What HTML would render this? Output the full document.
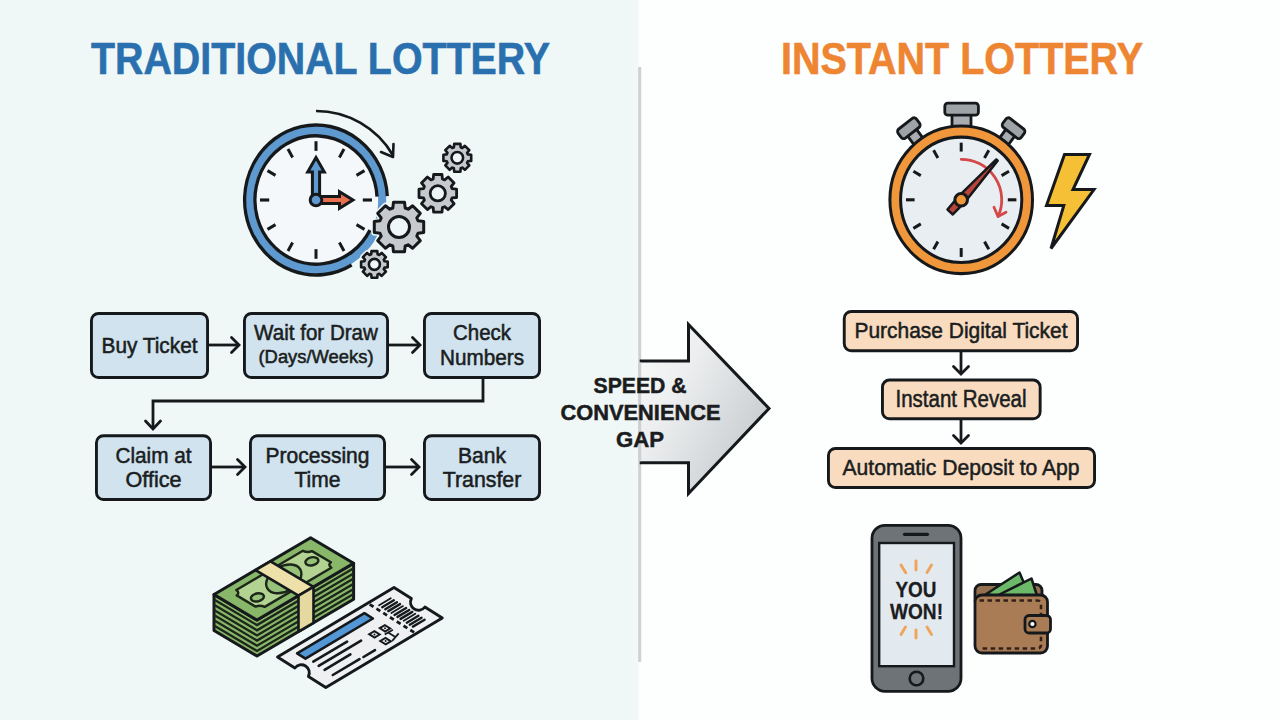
<!DOCTYPE html>
<html><head><meta charset="utf-8"><style>
html,body{margin:0;padding:0;width:1280px;height:720px;overflow:hidden;background:#fdfefe;}
svg{display:block;}
</style></head><body>
<svg width="1280" height="720" viewBox="0 0 1280 720">
<defs><linearGradient id="lp" x1="0" y1="0" x2="1" y2="0"><stop offset="0" stop-color="#eff8f7"/><stop offset="0.985" stop-color="#eff8f7"/><stop offset="1" stop-color="#f4f7f8"/></linearGradient></defs>
<rect x="0" y="0" width="1280" height="720" fill="#fdfefe"/>
<rect x="0" y="0" width="638.5" height="720" fill="url(#lp)"/>
<line x1="639.7" y1="67" x2="639.7" y2="662" stroke="#cdd1d2" stroke-width="3"/>
<text x="91" y="74" font-family="Liberation Sans, sans-serif" font-weight="bold" font-size="45" fill="#2a70ae" stroke="#2a70ae" stroke-width="0.6" textLength="459" lengthAdjust="spacingAndGlyphs">TRADITIONAL LOTTERY</text>
<text x="781" y="74" font-family="Liberation Sans, sans-serif" font-weight="bold" font-size="45" fill="#ee8532" stroke="#ee8532" stroke-width="0.6" textLength="362" lengthAdjust="spacingAndGlyphs">INSTANT LOTTERY</text>
<g transform="translate(316,200) scale(1,1.05)">
<circle cx="0" cy="0" r="61" fill="#f5f8fa"/>
<circle cx="0" cy="0" r="66.2" fill="none" stroke="#5e9ad0" stroke-width="8"/>
<path d="M35.70,61.83 A71.4,71.4 0 1 1 71.30,-3.74" fill="none" stroke="#16191c" stroke-width="3.3"/>
<path d="M53.95,28.68 A61.1,61.1 0 1 1 61.02,-3.20" fill="none" stroke="#16191c" stroke-width="3.3"/>
<line x1="0.0" y1="-46.8" x2="0.0" y2="-56.0" stroke="#16191c" stroke-width="3"/>
<line x1="23.4" y1="-40.5" x2="28.0" y2="-48.5" stroke="#16191c" stroke-width="3"/>
<line x1="40.5" y1="-23.4" x2="48.5" y2="-28.0" stroke="#16191c" stroke-width="3"/>
<line x1="46.8" y1="-0.0" x2="56.0" y2="-0.0" stroke="#16191c" stroke-width="3"/>
<line x1="40.5" y1="23.4" x2="48.5" y2="28.0" stroke="#16191c" stroke-width="3"/>
<line x1="23.4" y1="40.5" x2="28.0" y2="48.5" stroke="#16191c" stroke-width="3"/>
<line x1="0.0" y1="46.8" x2="0.0" y2="56.0" stroke="#16191c" stroke-width="3"/>
<line x1="-23.4" y1="40.5" x2="-28.0" y2="48.5" stroke="#16191c" stroke-width="3"/>
<line x1="-40.5" y1="23.4" x2="-48.5" y2="28.0" stroke="#16191c" stroke-width="3"/>
<line x1="-46.8" y1="0.0" x2="-56.0" y2="0.0" stroke="#16191c" stroke-width="3"/>
<line x1="-40.5" y1="-23.4" x2="-48.5" y2="-28.0" stroke="#16191c" stroke-width="3"/>
<line x1="-23.4" y1="-40.5" x2="-28.0" y2="-48.5" stroke="#16191c" stroke-width="3"/>
</g>
<path d="M312.4,200 L312.4,172 L307.7,172 L316,157.5 L324.3,172 L319.6,172 L319.6,200 Z" fill="#5e9ad0" stroke="#16191c" stroke-width="3" stroke-linejoin="miter"/>
<path d="M316,196.6 L339.5,196.6 L339.5,191.7 L353,200 L339.5,208.3 L339.5,203.4 L316,203.4 Z" fill="#e9704c" stroke="#16191c" stroke-width="3" stroke-linejoin="miter"/>
<circle cx="316" cy="200" r="5.8" fill="#5e9ad0" stroke="#16191c" stroke-width="3"/>
<path d="M316.0,111.0 A89,89 0 0 1 393.1,155.5" fill="none" stroke="#16191c" stroke-width="2.6"/>
<path d="M381,152 L393,157 L393.5,144" fill="none" stroke="#16191c" stroke-width="2.6" stroke-linecap="round" stroke-linejoin="round"/>
<path d="M453.9,147.3 L454.2,143.9 L460.4,143.9 L460.7,147.3 L462.3,148.0 L464.9,145.8 L469.3,150.2 L467.1,152.8 L467.8,154.4 L471.2,154.7 L471.2,160.9 L467.8,161.2 L467.1,162.8 L469.3,165.4 L464.9,169.8 L462.3,167.6 L460.7,168.3 L460.4,171.7 L454.2,171.7 L453.9,168.3 L452.3,167.6 L449.7,169.8 L445.3,165.4 L447.5,162.8 L446.8,161.2 L443.4,160.9 L443.4,154.7 L446.8,154.4 L447.5,152.8 L445.3,150.2 L449.7,145.8 L452.3,148.0 Z" fill="none" stroke="#eff8f7" stroke-width="5.6" stroke-linejoin="round"/>
<path d="M453.9,147.3 L454.2,143.9 L460.4,143.9 L460.7,147.3 L462.3,148.0 L464.9,145.8 L469.3,150.2 L467.1,152.8 L467.8,154.4 L471.2,154.7 L471.2,160.9 L467.8,161.2 L467.1,162.8 L469.3,165.4 L464.9,169.8 L462.3,167.6 L460.7,168.3 L460.4,171.7 L454.2,171.7 L453.9,168.3 L452.3,167.6 L449.7,169.8 L445.3,165.4 L447.5,162.8 L446.8,161.2 L443.4,160.9 L443.4,154.7 L446.8,154.4 L447.5,152.8 L445.3,150.2 L449.7,145.8 L452.3,148.0 Z" fill="#c6c9cd" stroke="#16191c" stroke-width="2.6" stroke-linejoin="round"/>
<circle cx="457.3" cy="157.8" r="5.8" fill="#eff6f7" stroke="#16191c" stroke-width="2.6"/>
<path d="M433.2,179.0 L433.6,174.5 L442.0,174.5 L442.4,179.0 L444.6,179.9 L448.2,177.0 L454.1,182.9 L451.2,186.5 L452.1,188.7 L456.6,189.1 L456.6,197.5 L452.1,197.9 L451.2,200.1 L454.1,203.7 L448.2,209.6 L444.6,206.7 L442.4,207.6 L442.0,212.1 L433.6,212.1 L433.2,207.6 L431.0,206.7 L427.4,209.6 L421.5,203.7 L424.4,200.1 L423.5,197.9 L419.0,197.5 L419.0,189.1 L423.5,188.7 L424.4,186.5 L421.5,182.9 L427.4,177.0 L431.0,179.9 Z" fill="none" stroke="#eff8f7" stroke-width="5.8" stroke-linejoin="round"/>
<path d="M433.2,179.0 L433.6,174.5 L442.0,174.5 L442.4,179.0 L444.6,179.9 L448.2,177.0 L454.1,182.9 L451.2,186.5 L452.1,188.7 L456.6,189.1 L456.6,197.5 L452.1,197.9 L451.2,200.1 L454.1,203.7 L448.2,209.6 L444.6,206.7 L442.4,207.6 L442.0,212.1 L433.6,212.1 L433.2,207.6 L431.0,206.7 L427.4,209.6 L421.5,203.7 L424.4,200.1 L423.5,197.9 L419.0,197.5 L419.0,189.1 L423.5,188.7 L424.4,186.5 L421.5,182.9 L427.4,177.0 L431.0,179.9 Z" fill="#c6c9cd" stroke="#16191c" stroke-width="2.8" stroke-linejoin="round"/>
<circle cx="437.8" cy="193.3" r="7.6" fill="#eff6f7" stroke="#16191c" stroke-width="2.8"/>
<path d="M392.8,208.0 L393.5,202.3 L404.5,202.3 L405.2,208.0 L408.1,209.2 L412.6,205.7 L420.3,213.4 L416.8,217.9 L418.0,220.8 L423.7,221.5 L423.7,232.5 L418.0,233.2 L416.8,236.1 L420.3,240.6 L412.6,248.3 L408.1,244.8 L405.2,246.0 L404.5,251.7 L393.5,251.7 L392.8,246.0 L389.9,244.8 L385.4,248.3 L377.7,240.6 L381.2,236.1 L380.0,233.2 L374.3,232.5 L374.3,221.5 L380.0,220.8 L381.2,217.9 L377.7,213.4 L385.4,205.7 L389.9,209.2 Z" fill="none" stroke="#eff8f7" stroke-width="6" stroke-linejoin="round"/>
<path d="M392.8,208.0 L393.5,202.3 L404.5,202.3 L405.2,208.0 L408.1,209.2 L412.6,205.7 L420.3,213.4 L416.8,217.9 L418.0,220.8 L423.7,221.5 L423.7,232.5 L418.0,233.2 L416.8,236.1 L420.3,240.6 L412.6,248.3 L408.1,244.8 L405.2,246.0 L404.5,251.7 L393.5,251.7 L392.8,246.0 L389.9,244.8 L385.4,248.3 L377.7,240.6 L381.2,236.1 L380.0,233.2 L374.3,232.5 L374.3,221.5 L380.0,220.8 L381.2,217.9 L377.7,213.4 L385.4,205.7 L389.9,209.2 Z" fill="#c6c9cd" stroke="#16191c" stroke-width="3" stroke-linejoin="round"/>
<circle cx="399" cy="227" r="10.5" fill="#eff6f7" stroke="#16191c" stroke-width="3"/>
<path d="M371.2,254.4 L371.5,251.1 L377.3,251.1 L377.6,254.4 L379.2,255.0 L381.7,252.9 L385.9,257.1 L383.8,259.6 L384.4,261.2 L387.7,261.5 L387.7,267.3 L384.4,267.6 L383.8,269.2 L385.9,271.7 L381.7,275.9 L379.2,273.8 L377.6,274.4 L377.3,277.7 L371.5,277.7 L371.2,274.4 L369.6,273.8 L367.1,275.9 L362.9,271.7 L365.0,269.2 L364.4,267.6 L361.1,267.3 L361.1,261.5 L364.4,261.2 L365.0,259.6 L362.9,257.1 L367.1,252.9 L369.6,255.0 Z" fill="none" stroke="#eff8f7" stroke-width="5.6" stroke-linejoin="round"/>
<path d="M371.2,254.4 L371.5,251.1 L377.3,251.1 L377.6,254.4 L379.2,255.0 L381.7,252.9 L385.9,257.1 L383.8,259.6 L384.4,261.2 L387.7,261.5 L387.7,267.3 L384.4,267.6 L383.8,269.2 L385.9,271.7 L381.7,275.9 L379.2,273.8 L377.6,274.4 L377.3,277.7 L371.5,277.7 L371.2,274.4 L369.6,273.8 L367.1,275.9 L362.9,271.7 L365.0,269.2 L364.4,267.6 L361.1,267.3 L361.1,261.5 L364.4,261.2 L365.0,259.6 L362.9,257.1 L367.1,252.9 L369.6,255.0 Z" fill="#c6c9cd" stroke="#16191c" stroke-width="2.6" stroke-linejoin="round"/>
<circle cx="374.4" cy="264.4" r="5.5" fill="#eff6f7" stroke="#16191c" stroke-width="2.6"/>
<rect x="91.45" y="313.45" width="116.1" height="64.1" rx="7" fill="#d0e3ef" stroke="#16191c" stroke-width="2.9"/>
<rect x="244.45" y="313.45" width="143.1" height="64.1" rx="7" fill="#d0e3ef" stroke="#16191c" stroke-width="2.9"/>
<rect x="424.45" y="313.45" width="115.1" height="64.1" rx="7" fill="#d0e3ef" stroke="#16191c" stroke-width="2.9"/>
<rect x="96.45" y="435.75" width="114.1" height="63.79999999999999" rx="7" fill="#d0e3ef" stroke="#16191c" stroke-width="2.9"/>
<rect x="250.45" y="435.75" width="134.1" height="63.79999999999999" rx="7" fill="#d0e3ef" stroke="#16191c" stroke-width="2.9"/>
<rect x="424.45" y="435.75" width="115.1" height="63.79999999999999" rx="7" fill="#d0e3ef" stroke="#16191c" stroke-width="2.9"/>
<line x1="209" y1="345" x2="238" y2="345" stroke="#16191c" stroke-width="2.8"/>
<path d="M231.5,337.5 L239,345 L231.5,352.5" fill="none" stroke="#16191c" stroke-width="2.8" stroke-linecap="round" stroke-linejoin="miter"/>
<line x1="389" y1="345" x2="419" y2="345" stroke="#16191c" stroke-width="2.8"/>
<path d="M412.5,337.5 L420,345 L412.5,352.5" fill="none" stroke="#16191c" stroke-width="2.8" stroke-linecap="round" stroke-linejoin="miter"/>
<line x1="212" y1="467" x2="244" y2="467" stroke="#16191c" stroke-width="2.8"/>
<path d="M237.5,459.5 L245,467 L237.5,474.5" fill="none" stroke="#16191c" stroke-width="2.8" stroke-linecap="round" stroke-linejoin="miter"/>
<line x1="386" y1="467" x2="418" y2="467" stroke="#16191c" stroke-width="2.8"/>
<path d="M411.5,459.5 L419,467 L411.5,474.5" fill="none" stroke="#16191c" stroke-width="2.8" stroke-linecap="round" stroke-linejoin="miter"/>
<path d="M483,379 L483,401 L153,401 L153,428" fill="none" stroke="#16191c" stroke-width="2.8"/>
<path d="M145.5,421 L153,429 L160.5,421" fill="none" stroke="#16191c" stroke-width="2.8" stroke-linecap="round"/>
<text x="149.5" y="352.5" font-family="Liberation Sans, sans-serif" font-weight="normal" font-size="22" fill="#1b1e21" stroke="#1b1e21" stroke-width="0.55" text-anchor="middle" textLength="96" lengthAdjust="spacingAndGlyphs">Buy Ticket</text>
<text x="316" y="340.2" font-family="Liberation Sans, sans-serif" font-weight="normal" font-size="22" fill="#1b1e21" stroke="#1b1e21" stroke-width="0.55" text-anchor="middle" textLength="123.8" lengthAdjust="spacingAndGlyphs">Wait for Draw</text>
<text x="316" y="363.4" font-family="Liberation Sans, sans-serif" font-weight="normal" font-size="18.3" fill="#1b1e21" stroke="#1b1e21" stroke-width="0.55" text-anchor="middle" textLength="115" lengthAdjust="spacingAndGlyphs">(Days/Weeks)</text>
<text x="482" y="340.2" font-family="Liberation Sans, sans-serif" font-weight="normal" font-size="22" fill="#1b1e21" stroke="#1b1e21" stroke-width="0.55" text-anchor="middle" textLength="58" lengthAdjust="spacingAndGlyphs">Check</text>
<text x="482" y="365" font-family="Liberation Sans, sans-serif" font-weight="normal" font-size="22" fill="#1b1e21" stroke="#1b1e21" stroke-width="0.55" text-anchor="middle" textLength="84" lengthAdjust="spacingAndGlyphs">Numbers</text>
<text x="153.5" y="462.5" font-family="Liberation Sans, sans-serif" font-weight="normal" font-size="22" fill="#1b1e21" stroke="#1b1e21" stroke-width="0.55" text-anchor="middle" textLength="76" lengthAdjust="spacingAndGlyphs">Claim at</text>
<text x="153.5" y="487" font-family="Liberation Sans, sans-serif" font-weight="normal" font-size="22" fill="#1b1e21" stroke="#1b1e21" stroke-width="0.55" text-anchor="middle" textLength="56" lengthAdjust="spacingAndGlyphs">Office</text>
<text x="317.5" y="462.5" font-family="Liberation Sans, sans-serif" font-weight="normal" font-size="22" fill="#1b1e21" stroke="#1b1e21" stroke-width="0.55" text-anchor="middle" textLength="104" lengthAdjust="spacingAndGlyphs">Processing</text>
<text x="317.5" y="487" font-family="Liberation Sans, sans-serif" font-weight="normal" font-size="22" fill="#1b1e21" stroke="#1b1e21" stroke-width="0.55" text-anchor="middle" textLength="46" lengthAdjust="spacingAndGlyphs">Time</text>
<text x="482" y="462.5" font-family="Liberation Sans, sans-serif" font-weight="normal" font-size="22" fill="#1b1e21" stroke="#1b1e21" stroke-width="0.55" text-anchor="middle" textLength="48" lengthAdjust="spacingAndGlyphs">Bank</text>
<text x="482" y="487" font-family="Liberation Sans, sans-serif" font-weight="normal" font-size="22" fill="#1b1e21" stroke="#1b1e21" stroke-width="0.55" text-anchor="middle" textLength="78.5" lengthAdjust="spacingAndGlyphs">Transfer</text>
<defs><linearGradient id="ag" x1="0" y1="0.15" x2="1" y2="0.85"><stop offset="0" stop-color="#f8f9f9"/><stop offset="0.3" stop-color="#eceeef"/><stop offset="1" stop-color="#c2c6ca"/></linearGradient></defs>
<path d="M639.7,361 L688.5,361 L688.5,324.5 L769,408.5 L688.5,493.5 L688.5,462.8 L639.7,462.8" fill="url(#ag)" stroke="#16191c" stroke-width="3" stroke-linejoin="miter"/>
<line x1="639.7" y1="362.5" x2="639.7" y2="461.3" stroke="#cdd1d2" stroke-width="3"/>
<text x="640" y="393" font-family="Liberation Sans, sans-serif" font-weight="bold" font-size="22.5" fill="#1a1c1e" stroke="#1a1c1e" stroke-width="0.5" text-anchor="middle" textLength="93" lengthAdjust="spacingAndGlyphs">SPEED &amp;</text>
<text x="640.5" y="419.8" font-family="Liberation Sans, sans-serif" font-weight="bold" font-size="22.5" fill="#1a1c1e" stroke="#1a1c1e" stroke-width="0.5" text-anchor="middle" textLength="160" lengthAdjust="spacingAndGlyphs">CONVENIENCE</text>
<text x="640" y="446.6" font-family="Liberation Sans, sans-serif" font-weight="bold" font-size="22.5" fill="#1a1c1e" stroke="#1a1c1e" stroke-width="0.5" text-anchor="middle" textLength="48" lengthAdjust="spacingAndGlyphs">GAP</text>
<rect x="952" y="112" width="19" height="18" fill="#a9adb1" stroke="#16191c" stroke-width="2.8"/>
<rect x="944.8" y="103.2" width="33.6" height="12" rx="3" fill="#9ea3a7" stroke="#16191c" stroke-width="2.8"/>
<g transform="translate(961.2,199.8) scale(1,1.03) rotate(-37)"><rect x="-5.5" y="-83" width="11" height="15" fill="#a9adb1" stroke="#16191c" stroke-width="2.8"/><rect x="-11.5" y="-92.5" width="23" height="11" rx="3" fill="#9ea3a7" stroke="#16191c" stroke-width="2.8"/></g>
<g transform="translate(961.2,199.8) scale(1,1.03) rotate(37)"><rect x="-5.5" y="-83" width="11" height="15" fill="#a9adb1" stroke="#16191c" stroke-width="2.8"/><rect x="-11.5" y="-92.5" width="23" height="11" rx="3" fill="#9ea3a7" stroke="#16191c" stroke-width="2.8"/></g>
<g transform="translate(961.2,199.8) scale(1,1.035)">
<circle cx="0" cy="0" r="71.3" fill="#f0963b" stroke="#16191c" stroke-width="3"/>
<circle cx="0" cy="0" r="60.6" fill="#e8eef2" stroke="#16191c" stroke-width="3"/>
<line x1="0.0" y1="-46.6" x2="0.0" y2="-55.2" stroke="#16191c" stroke-width="3"/>
<line x1="23.3" y1="-40.4" x2="27.6" y2="-47.8" stroke="#16191c" stroke-width="3"/>
<line x1="40.4" y1="-23.3" x2="47.8" y2="-27.6" stroke="#16191c" stroke-width="3"/>
<line x1="46.6" y1="-0.0" x2="55.2" y2="-0.0" stroke="#16191c" stroke-width="3"/>
<line x1="40.4" y1="23.3" x2="47.8" y2="27.6" stroke="#16191c" stroke-width="3"/>
<line x1="23.3" y1="40.4" x2="27.6" y2="47.8" stroke="#16191c" stroke-width="3"/>
<line x1="0.0" y1="46.6" x2="0.0" y2="55.2" stroke="#16191c" stroke-width="3"/>
<line x1="-23.3" y1="40.4" x2="-27.6" y2="47.8" stroke="#16191c" stroke-width="3"/>
<line x1="-40.4" y1="23.3" x2="-47.8" y2="27.6" stroke="#16191c" stroke-width="3"/>
<line x1="-46.6" y1="0.0" x2="-55.2" y2="0.0" stroke="#16191c" stroke-width="3"/>
<line x1="-40.4" y1="-23.3" x2="-47.8" y2="-27.6" stroke="#16191c" stroke-width="3"/>
<line x1="-23.3" y1="-40.4" x2="-27.6" y2="-47.8" stroke="#16191c" stroke-width="3"/>
</g>
<path d="M961.2,159.3 A40.5,40.5 0 0 1 998.2,216.3" fill="none" stroke="#d44848" stroke-width="2.8" stroke-linecap="round"/>
<path d="M994,207.3 L998,216.5 L1006,212.2" fill="none" stroke="#d44848" stroke-width="2.8" stroke-linecap="round" stroke-linejoin="round"/>
<g transform="translate(961.2,199.8) rotate(-48.0)"><path d="M53.5,-0.9 L53.5,0.9 L0,4.3 L-16.5,3.6 L-16.5,-3.6 L0,-4.3 Z" fill="#b9443b" stroke="#16191c" stroke-width="2.5" stroke-linejoin="round"/></g>
<circle cx="961.2" cy="199.8" r="6.3" fill="#f0963b" stroke="#16191c" stroke-width="3"/>
<path d="M1064.5,154.5 L1089.5,154.5 L1073,189.6 L1094,189.6 L1051,248.5 L1063.8,205.6 L1046.5,205.6 Z" fill="#f5c036" stroke="#16191c" stroke-width="3" stroke-linejoin="miter"/>
<rect x="844.25" y="311.45" width="233.30000000000004" height="39.29999999999999" rx="7" fill="#f9dcc0" stroke="#16191c" stroke-width="2.9"/>
<rect x="882.45" y="380.05" width="157.6999999999999" height="38.69999999999997" rx="7" fill="#f9dcc0" stroke="#16191c" stroke-width="2.9"/>
<rect x="828.45" y="448.45" width="266.1" height="39.1" rx="7" fill="#f9dcc0" stroke="#16191c" stroke-width="2.9"/>
<line x1="961" y1="352" x2="961" y2="373" stroke="#16191c" stroke-width="2.8"/>
<path d="M953.5,366.5 L961,374 L968.5,366.5" fill="none" stroke="#16191c" stroke-width="2.8" stroke-linecap="round"/>
<line x1="961" y1="420" x2="961" y2="442" stroke="#16191c" stroke-width="2.8"/>
<path d="M953.5,435.5 L961,443 L968.5,435.5" fill="none" stroke="#16191c" stroke-width="2.8" stroke-linecap="round"/>
<text x="961" y="338" font-family="Liberation Sans, sans-serif" font-weight="normal" font-size="22.8" fill="#1b1e21" stroke="#1b1e21" stroke-width="0.55" text-anchor="middle" textLength="213" lengthAdjust="spacingAndGlyphs">Purchase Digital Ticket</text>
<text x="961" y="407" font-family="Liberation Sans, sans-serif" font-weight="normal" font-size="23" fill="#1b1e21" stroke="#1b1e21" stroke-width="0.55" text-anchor="middle" textLength="131" lengthAdjust="spacingAndGlyphs">Instant Reveal</text>
<text x="961" y="475.2" font-family="Liberation Sans, sans-serif" font-weight="normal" font-size="22.8" fill="#1b1e21" stroke="#1b1e21" stroke-width="0.55" text-anchor="middle" textLength="237" lengthAdjust="spacingAndGlyphs">Automatic Deposit to App</text>
<rect x="872" y="525.3" width="89" height="166" rx="13" fill="#6e7378" stroke="#16191c" stroke-width="2.8"/>
<rect x="879.2" y="543" width="74.8" height="123.2" fill="#e3eaef" stroke="#16191c" stroke-width="2.4"/>
<line x1="904.5" y1="534.3" x2="927.5" y2="534.3" stroke="#16191c" stroke-width="3.2" stroke-linecap="round"/>
<circle cx="916.5" cy="678.5" r="6.8" fill="#6e7378" stroke="#16191c" stroke-width="2.6"/>
<text x="916" y="596.7" font-family="Liberation Sans, sans-serif" font-weight="bold" font-size="21.5" fill="#1b1d1f" stroke="#1b1d1f" stroke-width="0.3" text-anchor="middle" textLength="41" lengthAdjust="spacingAndGlyphs">YOU</text>
<text x="916.5" y="619" font-family="Liberation Sans, sans-serif" font-weight="bold" font-size="21.5" fill="#1b1d1f" stroke="#1b1d1f" stroke-width="0.3" text-anchor="middle" textLength="53" lengthAdjust="spacingAndGlyphs">WON!</text>
<line x1="901" y1="565" x2="905.7" y2="572.8" stroke="#f0a35a" stroke-width="2.9" stroke-linecap="round"/>
<line x1="916" y1="561" x2="916" y2="570" stroke="#f0a35a" stroke-width="2.9" stroke-linecap="round"/>
<line x1="931.5" y1="565" x2="927" y2="572.6" stroke="#f0a35a" stroke-width="2.9" stroke-linecap="round"/>
<line x1="905.5" y1="627" x2="901" y2="634.5" stroke="#f0a35a" stroke-width="2.9" stroke-linecap="round"/>
<line x1="916" y1="630" x2="916" y2="638" stroke="#f0a35a" stroke-width="2.9" stroke-linecap="round"/>
<line x1="927" y1="627" x2="931.5" y2="634.5" stroke="#f0a35a" stroke-width="2.9" stroke-linecap="round"/>
<rect x="975" y="584.5" width="67" height="22" rx="6" fill="#94704f" stroke="#16191c" stroke-width="2.8"/>
<path d="M985.5,594.5 L1019.5,572.5 L1026,588 L1000,596 Z" fill="#6cb969" stroke="#16191c" stroke-width="2.5" stroke-linejoin="round"/>
<path d="M997.5,595.5 L1031.5,578.5 L1037,595.5 Z" fill="#6cb969" stroke="#16191c" stroke-width="2.5" stroke-linejoin="round"/>
<rect x="975" y="595" width="72.5" height="58" rx="7" fill="#a97c56" stroke="#16191c" stroke-width="2.8"/>
<path d="M979.5,600.5 L1037,600.5 Q1041,600.5 1041,604.5 L1041,644.5 Q1041,648.5 1037,648.5 L979.5,648.5" fill="none" stroke="#33201a" stroke-width="2.6" stroke-dasharray="4.5,3.5"/>
<rect x="1025" y="615.5" width="25.5" height="17.5" rx="4" fill="#a97c56" stroke="#16191c" stroke-width="2.8"/>
<circle cx="1032.4" cy="624" r="3.2" fill="#ffffff" stroke="#16191c" stroke-width="2.2"/>
<path d="M214.0,594.5 L257.0,620.0 L353.6,563.2 L353.6,599.2 L257.0,656.0 L214.0,630.5 Z" fill="#88b76a" stroke="#16191c" stroke-width="3" stroke-linejoin="round"/>
<path d="M214.0,599.6 L257.0,625.1 L353.6,568.3" fill="none" stroke="#1c2619" stroke-width="2.3"/>
<path d="M214.0,604.8 L257.0,630.3 L353.6,573.5" fill="none" stroke="#1c2619" stroke-width="2.3"/>
<path d="M214.0,609.9 L257.0,635.4 L353.6,578.6" fill="none" stroke="#1c2619" stroke-width="2.3"/>
<path d="M214.0,615.1 L257.0,640.6 L353.6,583.8" fill="none" stroke="#1c2619" stroke-width="2.3"/>
<path d="M214.0,620.2 L257.0,645.7 L353.6,588.9" fill="none" stroke="#1c2619" stroke-width="2.3"/>
<path d="M214.0,625.4 L257.0,650.9 L353.6,594.1" fill="none" stroke="#1c2619" stroke-width="2.3"/>
<path d="M214.0,594.5 L310.6,537.7 L353.6,563.2 L257.0,620.0 Z" fill="#88b76a" stroke="#16191c" stroke-width="3" stroke-linejoin="round"/>
<path d="M236.3,590.0 L302.9,550.8 Q307.6,553.1 312.0,551.1 L330.9,562.3 Q327.5,564.9 331.3,567.7 L264.7,606.9 Q260.0,604.6 255.6,606.6 L236.7,595.4 Q240.1,592.8 236.3,590.0 Z" fill="#b2d391" stroke="#1c2619" stroke-width="2.4" stroke-linejoin="round"/>
<ellipse cx="283.8" cy="578.9" rx="19" ry="12.5" fill="#96c279" stroke="#1c2619" stroke-width="2.4" transform="rotate(-30 283.8 578.9)"/>
<ellipse cx="257.4" cy="597.4" rx="6.6" ry="4" fill="#96c279" stroke="#1c2619" stroke-width="2.4" transform="rotate(-12 257.4 597.4)"/>
<ellipse cx="311.9" cy="561.3" rx="6.6" ry="4" fill="#96c279" stroke="#1c2619" stroke-width="2.4" transform="rotate(-12 311.9 561.3)"/>
<path d="M255.5,570.1 L270.5,561.3 L313.5,586.8 L298.5,595.6 Z" fill="#ede0a8" stroke="#16191c" stroke-width="2.6" stroke-linejoin="round"/>
<path d="M298.5,595.6 L313.5,586.8 L313.5,622.8 L298.5,631.6 Z" fill="#e6d9a0" stroke="#16191c" stroke-width="2.6" stroke-linejoin="round"/>
<path d="M277.5,657.0 L394.0,587.5 L411.4,598.5 A8,8 0 0 0 424.9,607.0 L442.3,618.0 L325.8,687.5 L308.4,676.5 A8,8 0 0 0 294.9,668.0 Z" fill="#eef0f2" stroke="#16191c" stroke-width="2.8" stroke-linejoin="round"/>
<line x1="369.7" y1="604.4" x2="414.6" y2="632.7" stroke="#16191c" stroke-width="2.8" stroke-dasharray="4.5,3.5"/>
<path d="M297.1,653.3 L364.4,613.2 L372.9,618.5 L305.5,658.7 Z" fill="#5497d6" stroke="#16191c" stroke-width="2.6" stroke-linejoin="round"/>
<line x1="313.3" y1="661.7" x2="347.1" y2="641.6" stroke="#16191c" stroke-width="2.6" stroke-linecap="round"/>
<line x1="318.7" y1="665.9" x2="361.1" y2="640.6" stroke="#16191c" stroke-width="2.6" stroke-linecap="round"/>
<line x1="324.6" y1="669.8" x2="350.4" y2="654.4" stroke="#16191c" stroke-width="2.6" stroke-linecap="round"/>
<line x1="332.8" y1="675.0" x2="359.5" y2="659.1" stroke="#16191c" stroke-width="2.6" stroke-linecap="round"/>
<line x1="363.5" y1="657.0" x2="375.0" y2="650.2" stroke="#16191c" stroke-width="2.6" stroke-linecap="round"/>
<line x1="379.1" y1="605.3" x2="390.8" y2="598.3" stroke="#16191c" stroke-width="1.8" stroke-linecap="round"/>
<line x1="382.2" y1="607.2" x2="393.8" y2="600.3" stroke="#16191c" stroke-width="2.4" stroke-linecap="round"/>
<line x1="385.3" y1="609.2" x2="396.9" y2="602.2" stroke="#16191c" stroke-width="2.4" stroke-linecap="round"/>
<line x1="388.3" y1="611.1" x2="400.0" y2="604.1" stroke="#16191c" stroke-width="2.4" stroke-linecap="round"/>
<line x1="391.4" y1="613.0" x2="403.0" y2="606.1" stroke="#16191c" stroke-width="1.8" stroke-linecap="round"/>
<line x1="394.5" y1="615.0" x2="406.1" y2="608.0" stroke="#16191c" stroke-width="2.4" stroke-linecap="round"/>
<line x1="397.5" y1="616.9" x2="409.2" y2="610.0" stroke="#16191c" stroke-width="2.4" stroke-linecap="round"/>
<line x1="400.6" y1="618.9" x2="412.3" y2="611.9" stroke="#16191c" stroke-width="2.4" stroke-linecap="round"/>
<line x1="403.7" y1="620.8" x2="415.3" y2="613.8" stroke="#16191c" stroke-width="1.8" stroke-linecap="round"/>
<line x1="406.8" y1="622.7" x2="418.4" y2="615.8" stroke="#16191c" stroke-width="2.4" stroke-linecap="round"/>
<line x1="409.8" y1="624.7" x2="421.5" y2="617.7" stroke="#16191c" stroke-width="2.4" stroke-linecap="round"/>
<line x1="412.9" y1="626.6" x2="424.6" y2="619.7" stroke="#16191c" stroke-width="2.4" stroke-linecap="round"/>
<path d="M390.2,628.4 L385.1,631.5 L379.8,628.1 L384.9,625.1 Z" fill="none" stroke="#16191c" stroke-width="2"/>
<circle cx="385.0" cy="628.3" r="1" fill="#16191c"/>
<path d="M379.7,634.5 L374.6,637.6 L369.2,634.2 L374.4,631.2 Z" fill="none" stroke="#16191c" stroke-width="2"/>
<circle cx="374.5" cy="634.4" r="1" fill="#16191c"/>
<path d="M390.8,641.3 L385.7,644.3 L380.3,641.0 L385.5,637.9 Z" fill="none" stroke="#16191c" stroke-width="2"/>
<circle cx="385.6" cy="641.1" r="1" fill="#16191c"/>
<path d="M384.7,634.6 L392.9,629.7 M388.2,632.5 L395.4,637.1 M392.2,640.8 L398.7,633.4" fill="none" stroke="#16191c" stroke-width="1.8"/>
</svg>
</body></html>
